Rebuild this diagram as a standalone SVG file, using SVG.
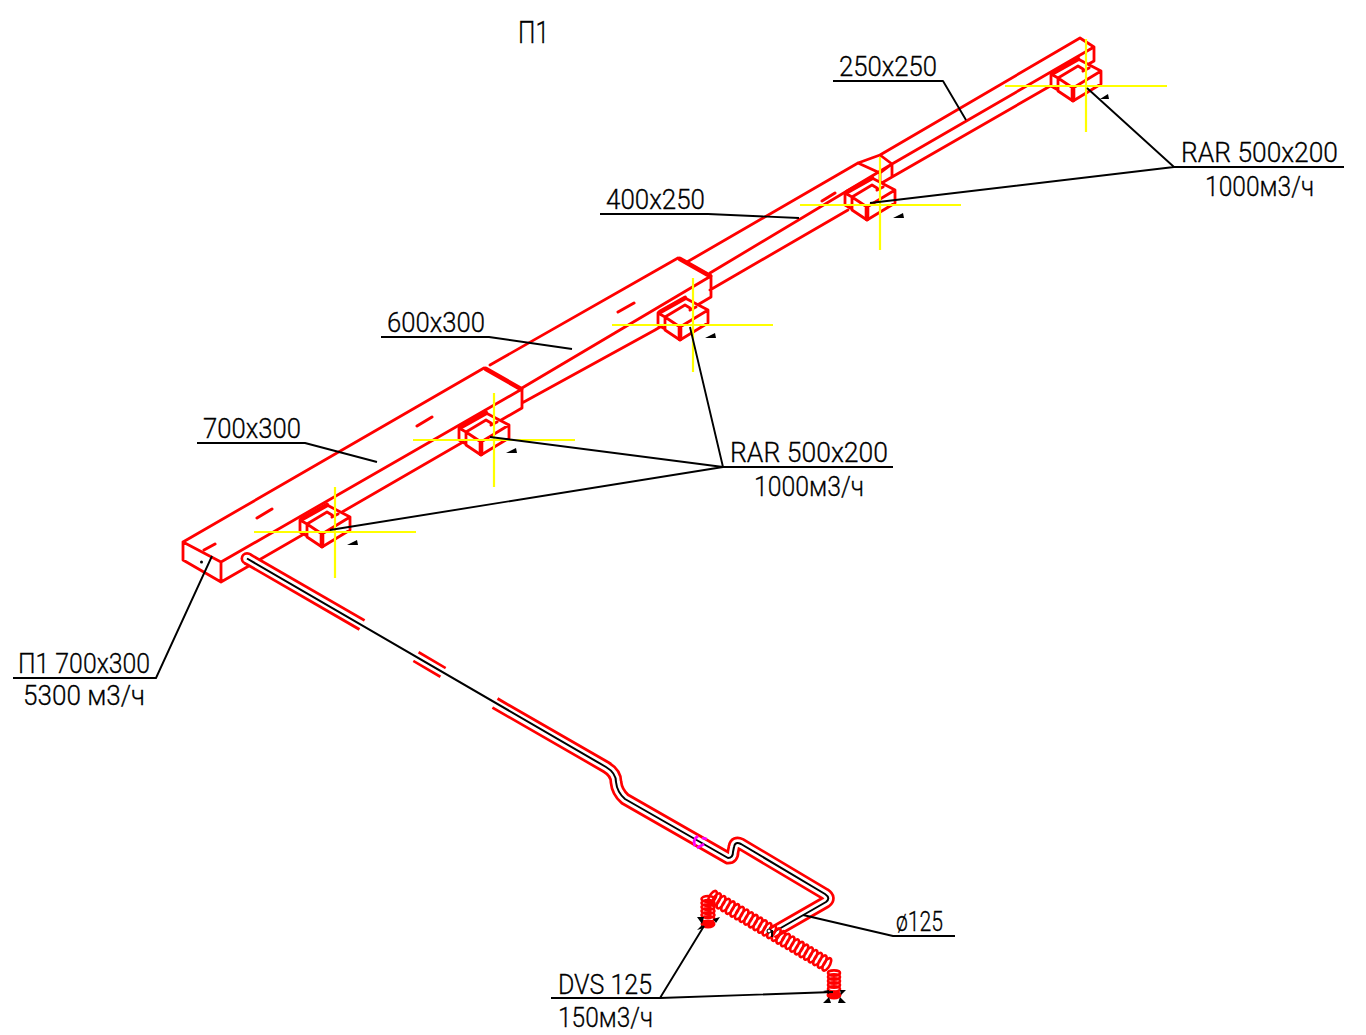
<svg xmlns="http://www.w3.org/2000/svg" width="1366" height="1035" viewBox="0 0 1366 1035">
<style>
.r{fill:none;stroke:#f00;stroke-width:2.8;stroke-linecap:round;stroke-linejoin:round}
.rt{fill:none;stroke:#f00;stroke-width:4.6;stroke-linecap:round}
.d{fill:none;stroke:#f00;stroke-width:3;stroke-linecap:round}
.y{fill:none;stroke:#ff0;stroke-width:2.2}
.k{fill:none;stroke:#000;stroke-width:1.9;stroke-linejoin:round}
.po{fill:none;stroke:#f00;stroke-width:13;stroke-linejoin:round}
.pw{fill:none;stroke:#fff;stroke-width:7.6;stroke-linejoin:round}
.pk{fill:none;stroke:#000;stroke-width:2;stroke-linejoin:round}
.c{fill:none;stroke:#f00;stroke-width:2.6}
.t{font-family:"Roboto","Liberation Sans",sans-serif;font-weight:300;font-size:28px;fill:#000;stroke:#000;stroke-width:.3}
.b{fill:#000;stroke:none}
</style>
<defs>
<g id="grille">
<path d="M-35-12L-8-27L15-15L15-2L-13 15L-28 5L-35 0Z" fill="#fff" stroke="none"/>
<path class="r" d="M-35-12V0L-28 4M-28-8V5L-13 15L15-2V-15L-8-27M-28-8L-13 2L15-15M-28-8L-8-20L-3-17M-35-12L-28-8"/>
<path class="rt" d="M-33-13L-8-27M-13 3V14"/>
<path class="d" d="M-3-15L3-18"/>
</g>
</defs>
<g id="duct">
<path class="r" d="M183 542L484 368M183 542V560L221 582V562L183 542M221 562L522 389V408L221 582M522 403L655 330M490 365L678 258L711 276V297M522 388L711 276M711 297L655 330M687 262L858 163L880 155L892 164L880 173L858 163M710 273L892 164V177L880 184M710 290L848 210M880 173V191M880 155L1080 38L1094 47V61L1078 70M892 164L1094 47M892 177L1052 85"/>
<path class="rt" d="M486 369L521 389M680 259L710 276"/>
<path class="d" d="M204 550L215 544M257 518L272 509M417 426L432 417M618 312L634 303M822 201L835 193"/>
</g>
<g id="rar-1"><use href="#grille" x="335" y="532"/><path class="y" d="M254 532H416M335 487V578"/></g>
<g id="rar-2"><use href="#grille" x="494" y="440"/><path class="y" d="M413 440H575M494 393V487"/></g>
<g id="rar-3"><use href="#grille" x="693" y="325"/><path class="y" d="M612 325H773M693 278V372"/></g>
<g id="rar-4"><use href="#grille" x="880" y="205"/><path class="y" d="M800 205H961M880 157V250"/></g>
<g id="rar-5"><use href="#grille" x="1086" y="86"/><path class="y" d="M1005 86H1167M1086 39V132"/></g>
<g id="pipe">
<circle cx="247" cy="558.500" r="6.500" fill="#f00"/>
<path class="po" d="M247 558.500L362 625"/>
<circle cx="247" cy="558.500" r="3.800" fill="#fff"/>
<path class="pw" d="M247 558.500L364 626"/>
<path class="po" d="M416 656.500L443 672.500"/>
<path class="pw" d="M414 655.500L445 673.500"/>
<path class="po" d="M495 703L606 767Q616 773 616 782Q617 792 625 799L728 858Q733 858 733 852L734 847Q735 841 741 844L825 894Q831 898 826 902L772 933"/>
<path class="pw" d="M493 702L606 767Q616 773 616 782Q617 792 625 799L728 858Q733 858 733 852L734 847Q735 841 741 844L825 894Q831 898 826 902L772 933"/>
<path class="pk" d="M247 558.500L606 767Q616 773 616 782Q617 792 625 799L728 858Q733 858 733 852L734 847Q735 841 741 844L825 894Q831 898 826 902L772 933"/>
<path d="M695 846Q692 840 698 836M697 848L704 844M702 838L707 839" fill="none" stroke="#f0f" stroke-width="2.8"/>
</g>
<g id="flex">
<path class="c" d="M709.600 903.400a3 7 30 1 1 .1 0zm4 2.400a3 7 30 1 1 .1 0zm4.600 2.700a3 7 30 1 1 .1 0zm4.600 2.700a3 7 30 1 1 .1 0zm4.600 2.700a3 7 30 1 1 .1 0zm4.600 2.700a3 7 30 1 1 .1 0zm4.600 2.700a3 7 30 1 1 .1 0zm4.600 2.700a3 7 30 1 1 .1 0zm4.600 2.700a3 7 30 1 1 .1 0zm4.600 2.700a3 7 30 1 1 .1 0zm4.600 2.700a3 7 30 1 1 .1 0zm4.600 2.700a3 7 30 1 1 .1 0zm4.600 2.700a3 7 30 1 1 .1 0zm4.600 2.700a3 7 30 1 1 .1 0zm4.600 2.700a3 7 30 1 1 .1 0zm4.600 2.700a3 7 30 1 1 .1 0zm4.600 2.700a3 7 30 1 1 .1 0zm4.600 2.700a3 7 30 1 1 .1 0zm4.600 2.700a3 7 30 1 1 .1 0zm4.600 2.700a3 7 30 1 1 .1 0zm4.600 2.700a3 7 30 1 1 .1 0zm4.600 2.700a3 7 30 1 1 .1 0zm4.600 2.700a3 7 30 1 1 .1 0zm4.600 2.700a3 7 30 1 1 .1 0zm4.600 2.700a3 7 30 1 1 .1 0zm4.600 2.700a3 7 30 1 1 .1 0z"/>
<path class="c" d="M701.500 899a6.500 3 0 1 0 13 0a6.500 3 0 1 0-13 0m0 4a6.500 3 0 1 0 13 0a6.500 3 0 1 0-13 0m0 4a6.500 3 0 1 0 13 0a6.500 3 0 1 0-13 0m0 4a6.500 3 0 1 0 13 0a6.500 3 0 1 0-13 0m0 4a6.500 3 0 1 0 13 0a6.500 3 0 1 0-13 0m0 4a6.500 3 0 1 0 13 0a6.500 3 0 1 0-13 0"/>
<path class="c" d="M828 973a6 2.600 0 1 0 12 0a6 2.600 0 1 0-12 0m0 4a6 2.600 0 1 0 12 0a6 2.600 0 1 0-12 0m0 4a6 2.600 0 1 0 12 0a6 2.600 0 1 0-12 0m0 4a6 2.600 0 1 0 12 0a6 2.600 0 1 0-12 0m0 4a6 2.600 0 1 0 12 0a6 2.600 0 1 0-12 0"/>
<ellipse cx="708" cy="924" rx="7.500" ry="4.500" fill="#f00"/>
<ellipse cx="834" cy="995" rx="7.500" ry="4.500" fill="#f00"/>
<path class="b" d="M697 917L704 917L702 924ZM713 919L720 917L716 923ZM697 930L702 925L704 928ZM823 1003L829 997L831 1003ZM840 997L846 1003H838ZM829 990L823 991L829 994ZM840 990L846 990L841 995Z"/>
<circle cx="769" cy="931" r="2" fill="#fff" stroke="#000" stroke-width="1"/>
<path class="k" d="M772 930V937"/>
</g>
<g id="connectors">
<path class="k" d="M833 81H943L966 120M600 214H708L799 218M381 337H489L572 349M197 443H305L377 462"/>
<path class="k" d="M1344 167H1174L1087 88M1174 167L870 203"/>
<path class="k" d="M893 467H723L330 530M723 467L490 437M723 467L690 327"/>
<path class="k" d="M13 678H156L212 556"/>
<path class="k" d="M955 936H893L803 915"/>
<path class="k" d="M551 998H660L704 926M660 998L833 992"/>
<circle class="b" cx="201.500" cy="562" r="1.500"/>
<path class="b" d="M347 545L357 540L358 545ZM506 453L516 448L517 453ZM705 338L715 333L716 338ZM893 218L903 213L904 218ZM1100 99L1108 94L1109 99Z"/>
</g>
<g id="labels">
<text class="t" x="518" y="43" textLength="31" lengthAdjust="spacingAndGlyphs" style="font-size:31px">П1</text>
<text class="t" x="839" y="76" textLength="98" lengthAdjust="spacingAndGlyphs">250x250</text>
<text class="t" x="606" y="209" textLength="99" lengthAdjust="spacingAndGlyphs">400x250</text>
<text class="t" x="387" y="332" textLength="98" lengthAdjust="spacingAndGlyphs">600x300</text>
<text class="t" x="203" y="438" textLength="98" lengthAdjust="spacingAndGlyphs">700x300</text>
<text class="t" x="1181" y="162" textLength="157" lengthAdjust="spacingAndGlyphs">RAR 500x200</text>
<text class="t" x="1205" y="196" textLength="109" lengthAdjust="spacingAndGlyphs">1000м3/ч</text>
<text class="t" x="730" y="462" textLength="158" lengthAdjust="spacingAndGlyphs">RAR 500x200</text>
<text class="t" x="754" y="496" textLength="110" lengthAdjust="spacingAndGlyphs">1000м3/ч</text>
<text class="t" x="18" y="673" textLength="132" lengthAdjust="spacingAndGlyphs">П1 700x300</text>
<text class="t" x="23" y="705" textLength="122" lengthAdjust="spacingAndGlyphs">5300 м3/ч</text>
<text class="t" x="896" y="931" textLength="47" lengthAdjust="spacingAndGlyphs">ø125</text>
<text class="t" x="558" y="994" textLength="94" lengthAdjust="spacingAndGlyphs">DVS 125</text>
<text class="t" x="558" y="1027" textLength="95" lengthAdjust="spacingAndGlyphs">150м3/ч</text>
</g>
</svg>
